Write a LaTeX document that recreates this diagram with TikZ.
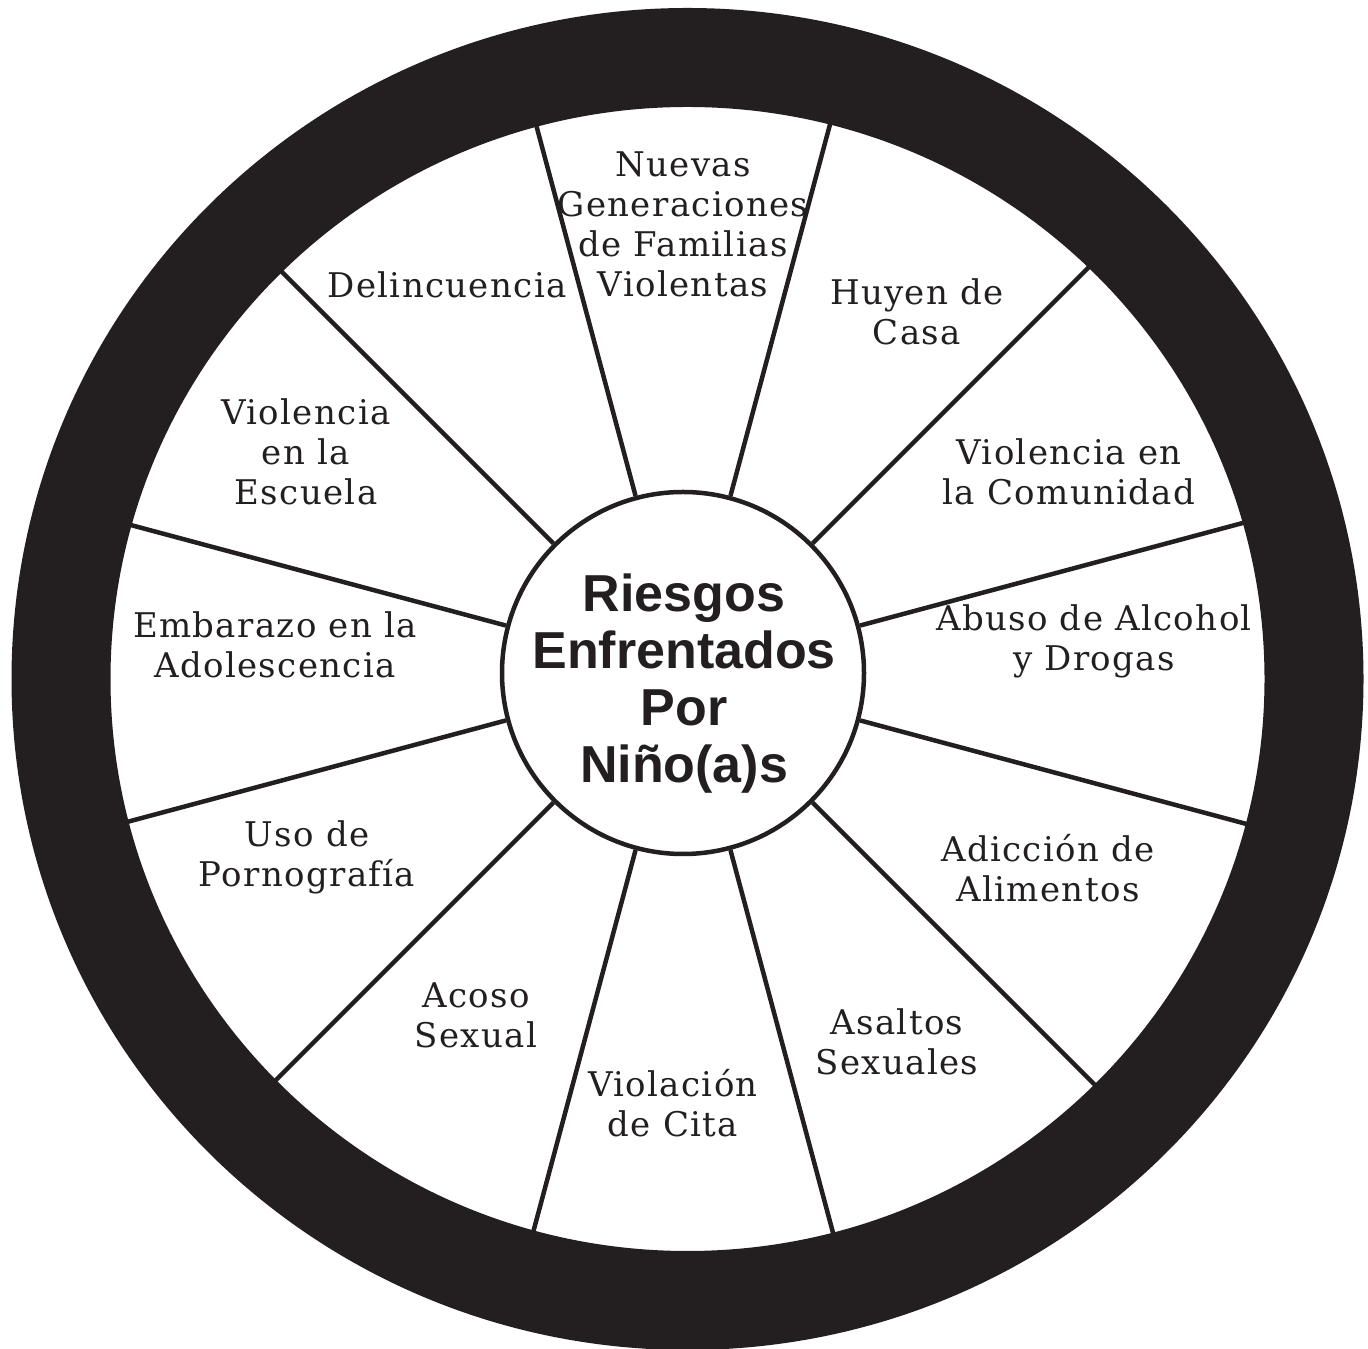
\documentclass[tikz,border=0pt]{standalone}
\usepackage{fontspec}
\setmainfont{DejaVu Serif}[LetterSpace=4]
\newfontfamily\hubfont{Liberation Sans}
\definecolor{ink}{RGB}{35,31,32}
\tikzset{
  lbl/.style={align=center, inner sep=0pt, text=ink, font=\fontsize{34}{40}\selectfont},
  spoke/.style={draw=ink, line width=4.5pt},
  hub/.style={circle, draw=ink, fill=white, line width=4.5pt, minimum size=362pt, inner sep=0pt},
  title/.style={align=center, inner sep=0pt, text=ink, font=\hubfont\bfseries\fontsize{52}{57}\selectfont},
}
\begin{document}
\begin{tikzpicture}[x=1pt,y=1pt]
\useasboundingbox (0,0) rectangle (1368,1349);
\fill[white] (0,0) rectangle (1368,1349);
\coordinate (ringc) at (687.5,670);
\node[hub] (hub) at (683,676) {};
% rim points
\foreach \a [count=\i] in {105,75,45,15,-15,-45,-75,-105,-135,-165,165,135}{
  \coordinate (rim\i) at ([shift={(\a:610)}]hub.center);
  \draw[spoke] (hub.\a) -- (rim\i);
}
% outer black ring
\fill[ink, even odd rule] (ringc) ellipse [x radius=676, y radius=671]
                          (ringc) ellipse [x radius=577, y radius=572];
\node[title] (t) at (684,663.4) {\strut Riesgos\\\strut Enfrentados\\\strut Por\\\strut Niño(a)s};
\node[lbl] (l1) at (683,1120) {\strut Nuevas\\\strut Generaciones\\\strut de Familias\\\strut Violentas};
\node[lbl] (l2) at (917,1032.5) {\strut Huyen de\\\strut Casa};
\node[lbl] (l3) at (1069,872) {\strut Violencia en\\\strut la Comunidad};
\node[lbl] (l4) at (1094,706) {\strut Abuso de Alcohol\\\strut y Drogas};
\node[lbl] (l5) at (1048,475.5) {\strut Adicción de\\\strut Alimentos};
\node[lbl] (l6) at (897,302.5) {\strut Asaltos\\\strut Sexuales};
\node[lbl] (l7) at (673,240) {\strut Violación\\\strut de Cita};
\node[lbl] (l8) at (476,329.5) {\strut Acoso\\\strut Sexual};
\node[lbl] (l9) at (307,490) {\strut Uso de\\\strut Pornografía};
\node[lbl] (l10) at (275,699.5) {\strut Embarazo en la\\\strut Adolescencia};
\node[lbl] (l11) at (306,892) {\strut Violencia\\\strut en la\\\strut Escuela};
\node[lbl] (l12) at (447,1059) {\strut Delincuencia};
\end{tikzpicture}
\end{document}
